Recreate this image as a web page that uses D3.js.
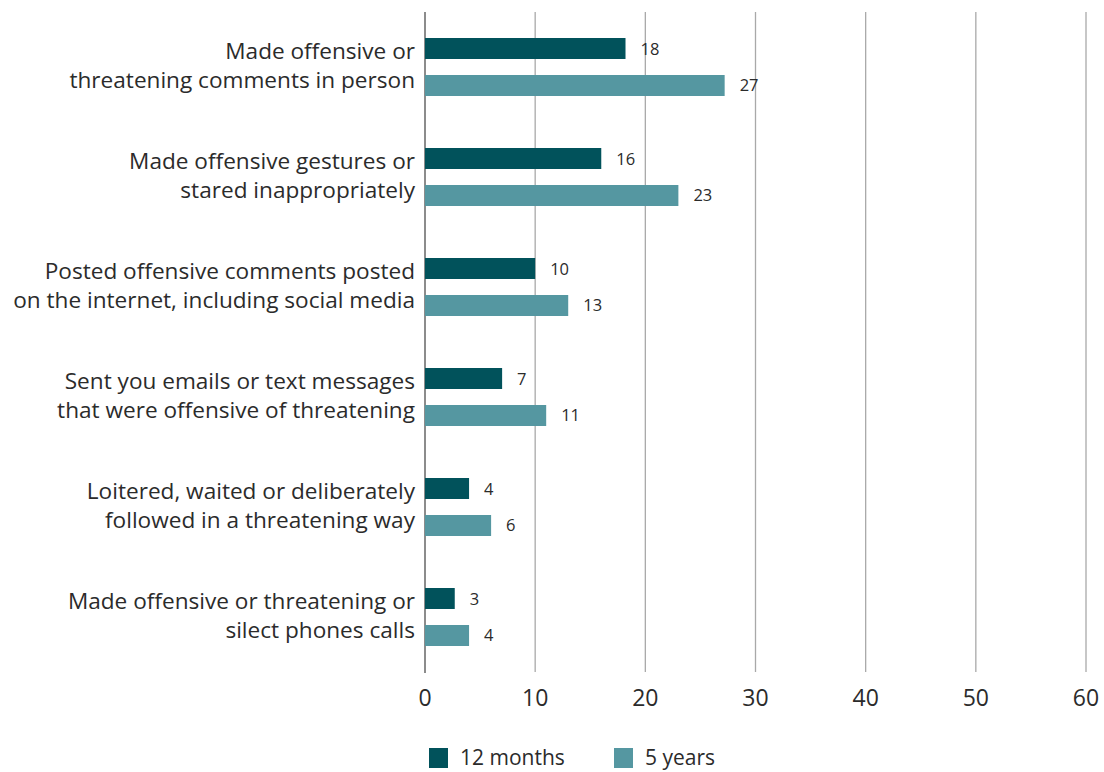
<!DOCTYPE html>
<html><head><meta charset="utf-8">
<script src="https://cdn.jsdelivr.net/npm/d3@7"></script>
<style>
html,body{margin:0;padding:0;background:#fff;}
svg{display:block;font-family:"Open Sans",sans-serif;}
</style></head>
<body>
<svg id="chart" width="1104" height="772"></svg>
<script>
const categories = [
  ["Made offensive or", "threatening comments in person"],
  ["Made offensive gestures or", "stared inappropriately"],
  ["Posted offensive comments posted", "on the internet, including social media"],
  ["Sent you emails or text messages", "that were offensive of threatening"],
  ["Loitered, waited or deliberately", "followed in a threatening way"],
  ["Made offensive or threatening or", "silect phones calls"]
];
const seriesNames = ["12 months", "5 years"];
const months12 = [18.2, 16, 10, 7, 4, 2.7];
const years5 = [27.2, 23, 13, 11, 6, 4];
const xTicks = [0, 10, 20, 30, 40, 50, 60];
const colors = ["#01525b", "#5597a1"];

const svg = d3.select("#chart");
const keys = categories.map((c, i) => i);
const x = d3.scaleLinear().domain([0, 60]).range([425, 1086]);
const y = d3.scaleBand().domain(keys).range([12, 672]);
const sub = d3.scaleBand().domain(seriesNames).range([0, y.bandwidth()])
  .paddingInner(16/37).paddingOuter(0.703);

// gridlines
svg.append("g").selectAll("line").data(xTicks).join("line")
  .attr("x1", d => x(d)).attr("x2", d => x(d))
  .attr("y1", 12).attr("y2", d => d === 0 ? 673 : 672)
  .attr("stroke", d => d === 0 ? "#8c8c8c" : "#a9a9a9")
  .attr("stroke-width", d => d === 0 ? 2 : 1.3);

// tick labels
svg.append("g").selectAll("text").data(xTicks).join("text")
  .attr("x", d => x(d)).attr("y", 706)
  .attr("text-anchor", "middle")
  .attr("font-size", 23).attr("fill", "#2b2b2b")
  .text(d => d);

// bars
const data = keys.map(i => [
  {k: i, s: seriesNames[0], v: months12[i]},
  {k: i, s: seriesNames[1], v: years5[i]}
]).flat();

svg.append("g").selectAll("rect").data(data).join("rect")
  .attr("x", x(0))
  .attr("y", d => y(d.k) + sub(d.s))
  .attr("width", d => x(d.v) - x(0))
  .attr("height", sub.bandwidth())
  .attr("fill", d => colors[seriesNames.indexOf(d.s)]);

// value labels
svg.append("g").selectAll("text").data(data).join("text")
  .attr("x", d => x(d.v) + 15)
  .attr("y", d => y(d.k) + sub(d.s) + sub.bandwidth()/2 + 6)
  .attr("font-size", 16.5).attr("fill", "#2b2b2b")
  .text(d => Math.round(d.v));

// category labels
const cl = svg.append("g").selectAll("text").data(keys).join("text")
  .attr("text-anchor", "end")
  .attr("font-size", 22.6).attr("fill", "#2b2b2b");
cl.each(function(i) {
  const t = d3.select(this);
  const cy = y(i) + y.bandwidth()/2;
  categories[i].forEach((line, j) => {
    t.append("tspan").attr("x", 415).attr("y", cy - 8.5 + j*29).text(line);
  });
});

// legend
const legX = [429, 614];
const lg = svg.append("g").selectAll("g").data(seriesNames).join("g");
lg.append("rect")
  .attr("x", (d, i) => legX[i]).attr("y", 748)
  .attr("width", 19).attr("height", 20)
  .attr("fill", (d, i) => colors[i]);
lg.append("text")
  .attr("x", (d, i) => legX[i] + 31).attr("y", 765)
  .attr("font-size", 21).attr("fill", "#2b2b2b")
  .text(d => d);
</script>
</body></html>
